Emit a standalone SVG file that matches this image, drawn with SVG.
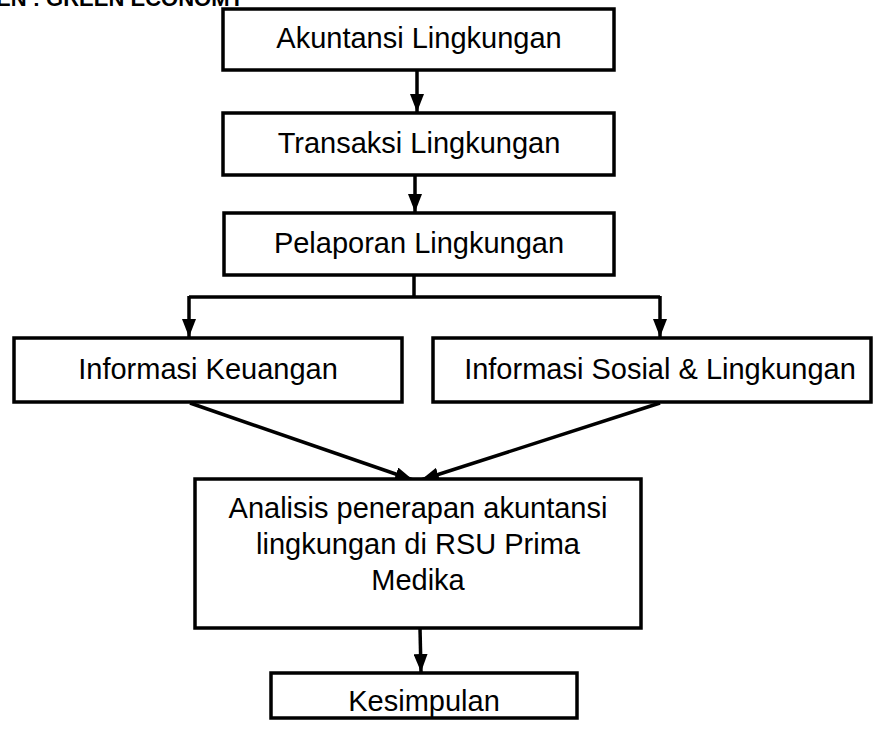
<svg xmlns="http://www.w3.org/2000/svg" width="875" height="734" viewBox="0 0 875 734">
<style>
.box{fill:#fff;stroke:#000;stroke-width:3.5}
.t{font-family:"Liberation Sans",Arial,sans-serif;font-size:29px;fill:#000;text-anchor:middle}
.c{fill:none;stroke:#000;stroke-width:3.5}
.h{font-family:"Liberation Sans",Arial,sans-serif;font-size:22px;font-weight:bold;fill:#000}
</style>
<defs>
<marker id="ah" markerUnits="userSpaceOnUse" markerWidth="18" markerHeight="14" refX="18" refY="7" orient="auto" viewBox="0 0 18 14">
<path d="M0,0 L18,7 L0,14 Z" fill="#000"/>
</marker>
</defs>
<text class="h" x="-4" y="6">EN : GREEN ECONOMY</text>
<g id="connectors">
<line class="c" x1="417" y1="70" x2="417" y2="112" marker-end="url(#ah)"/>
<line class="c" x1="415" y1="175" x2="415" y2="212" marker-end="url(#ah)"/>
<polyline class="c" points="414,275 414,297" />
<polyline class="c" points="189,297 660,297" />
<line class="c" x1="189" y1="296" x2="189" y2="337" marker-end="url(#ah)"/>
<line class="c" x1="660" y1="296" x2="660" y2="337" marker-end="url(#ah)"/>
<line class="c" x1="190" y1="403" x2="413" y2="480" marker-end="url(#ah)"/>
<line class="c" x1="660" y1="403" x2="421" y2="480" marker-end="url(#ah)"/>
<line class="c" x1="420" y1="628" x2="421" y2="672" marker-end="url(#ah)"/>
</g>
<g id="akuntansi">
<rect class="box" x="223" y="9" width="391" height="61"/>
<text class="t" x="419" y="48">Akuntansi Lingkungan</text>
</g>
<g id="transaksi">
<rect class="box" x="223" y="113" width="391" height="62"/>
<text class="t" x="419" y="153">Transaksi Lingkungan</text>
</g>
<g id="pelaporan">
<rect class="box" x="224" y="213" width="390" height="62"/>
<text class="t" x="419" y="253">Pelaporan Lingkungan</text>
</g>
<g id="keuangan">
<rect class="box" x="14" y="338" width="388" height="64"/>
<text class="t" x="208" y="379">Informasi Keuangan</text>
</g>
<g id="sosial">
<rect class="box" x="433" y="338" width="438" height="64"/>
<text class="t" x="660" y="379">Informasi Sosial &amp; Lingkungan</text>
</g>
<g id="analisis">
<rect class="box" x="195" y="479" width="446" height="149"/>
<text class="t" x="418" y="518">Analisis penerapan akuntansi</text>
<text class="t" x="418" y="554">lingkungan di RSU Prima</text>
<text class="t" x="418" y="590">Medika</text>
</g>
<g id="kesimpulan">
<rect class="box" x="271" y="673" width="306" height="45"/>
<text class="t" x="424" y="711">Kesimpulan</text>
</g>
</svg>
